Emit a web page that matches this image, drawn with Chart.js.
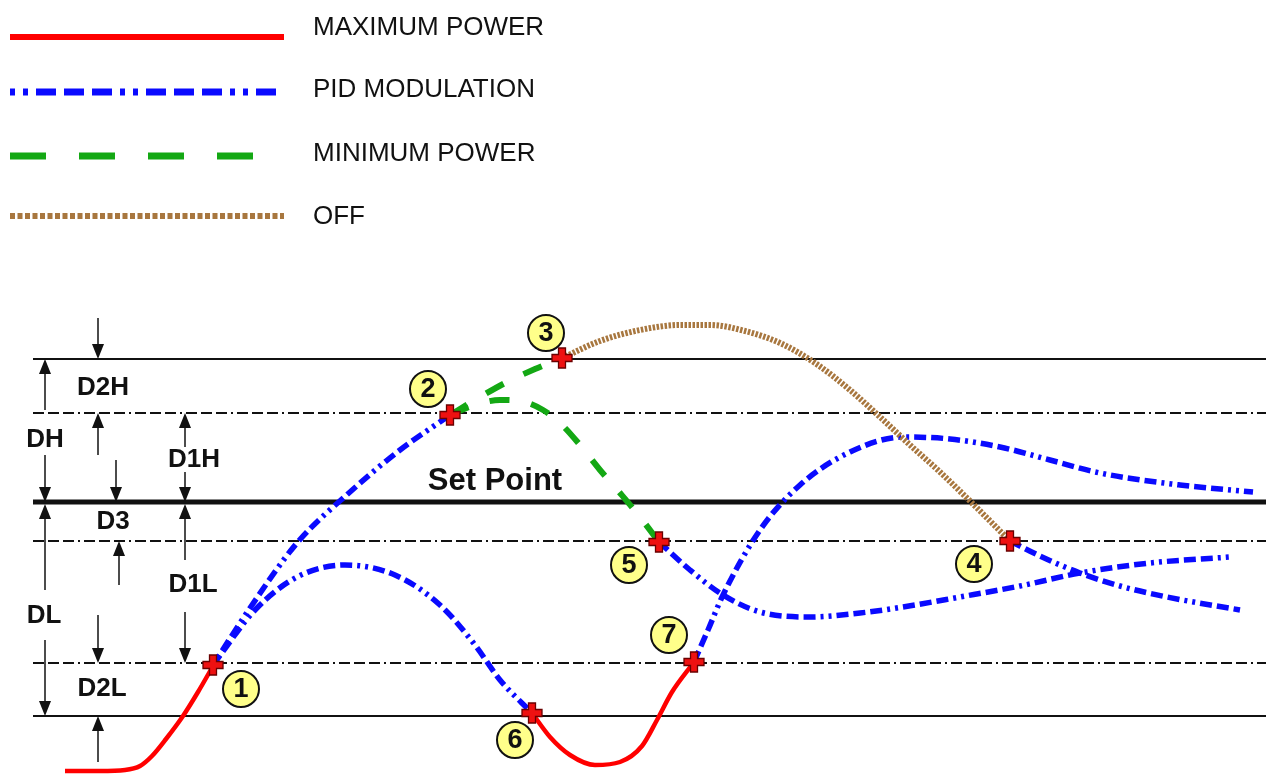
<!DOCTYPE html>
<html>
<head>
<meta charset="utf-8">
<title>Modulation bands</title>
<script src="https://cdn.jsdelivr.net/npm/chart.js@4.4.1/dist/chart.umd.min.js"></script>
<style>
  html, body { margin: 0; padding: 0; background: #fff; }
  #wrap { width: 1266px; height: 774px; }
</style>
</head>
<body>
<div id="wrap"><canvas id="chart" width="1266" height="774"></canvas></div>
<script>
// diagram units: x left to right, y grows downward like the drawing
const lineStart = 33;
const lineEnd = 1266;
// top, D1H, set point, D1L, D2L, bottom
const bandLevels = [359, 413, 502, 541, 663, 716];

const seriesNames = ['MAXIMUM POWER', 'PID MODULATION', 'MINIMUM POWER', 'OFF'];

// maximum power (red)
const maxPowerA = [[65,771],[100,771],[125,770],[140,766],[152,756],[166,739],[183,716],[198,692],[213,666]];
const maxPowerB = [[532,713],[550,737],[570,755],[595,765],[620,762],[642,746],[657,720],[672,692],[694,662]];

// PID modulation (blue)
const pidUp = [[213,665],[250,608],[297,543],[350,492],[400,450],[450,415]];
const pidHump = [[213,665],[255,610],[297,577],[345,565],[395,575],[440,605],[475,645],[500,680],[532,713]];
const pidFrom5 = [[659,542],[690,570],[723,595],[760,612],[810,617],[860,613],[903,607],[960,597],[1020,586],[1080,573],[1150,563],[1230,557]];
const pidFrom7 = [[694,662],[708,630],[723,595],[760,530],[800,485],[850,452],[903,437],[950,439],[1000,447],[1050,460],[1100,473],[1180,485],[1253,492]];
const pidFrom4 = [[1010,541],[1040,556],[1080,573],[1120,586],[1167,597],[1240,610]];

// minimum power (green)
const minTo3 = [[450,415],[475,400],[505,383],[535,369],[562,358]];
const minTo5 = [[450,415],[475,405],[500,400],[520,401],[543,410],[562,425],[580,445],[600,470],[620,493],[640,517],[659,542]];

// off (brown)
const offCurve = [[562,358],[600,341],[640,330],[680,325],[710,325],[745,331],[780,343],[815,363],[850,390],[880,417],[910,445],[940,472],[972,503],[1010,541]];

// switching events
const eventNames = ['1','2','3','4','5','6','7'];
const eventX = [213, 450, 562, 1010, 659, 532, 694];
const eventY = [665, 415, 358, 541, 542, 713, 662];
const tagX = [241, 428, 546, 974, 629, 515, 669];
const tagY = [689, 389, 333, 564, 565, 740, 635];

// band labels and arrows (x, tail y, head y)
const bandNames = ['D2H','DH','D1H','D3','D1L','DL','D2L','Set Point'];
const bandNameX = [103, 45, 194, 113, 193, 44, 102, 495];
const bandNameY = [388, 440, 460, 522, 585, 616, 689, 481];
const arrows = [
  [98, 318, 359], [98, 455, 413],
  [45, 410, 359], [45, 455, 502],
  [116, 460, 502], [119, 585, 541],
  [185, 447, 413], [185, 472, 502],
  [185, 560, 504], [185, 612, 663],
  [45, 590, 504], [45, 640, 716],
  [98, 615, 663], [98, 762, 716]
];

const FONT = '"Liberation Sans", Arial, sans-serif';
const pts = arr => arr.map(p => ({ x: p[0], y: p[1] }));

function curve(data, color, width, dash) {
  return {
    data: pts(data), showLine: true, borderColor: color, borderWidth: width,
    borderDash: dash, cubicInterpolationMode: 'monotone', pointRadius: 0,
    borderCapStyle: 'butt', order: 5, clip: false
  };
}

// red plus marker
const plus = document.createElement('canvas');
plus.width = 22; plus.height = 22;
(function () {
  const c = plus.getContext('2d');
  const a = 3.5, b = 10, m = 11;
  c.beginPath();
  c.moveTo(m - a, m - b); c.lineTo(m + a, m - b); c.lineTo(m + a, m - a); c.lineTo(m + b, m - a);
  c.lineTo(m + b, m + a); c.lineTo(m + a, m + a); c.lineTo(m + a, m + b); c.lineTo(m - a, m + b);
  c.lineTo(m - a, m + a); c.lineTo(m - b, m + a); c.lineTo(m - b, m - a); c.lineTo(m - a, m - a);
  c.closePath();
  c.fillStyle = '#ee1111';
  c.fill();
  c.lineWidth = 1.3;
  c.strokeStyle = '#6a0000';
  c.stroke();
})();

const dashDot = [11, 4, 11, 4, 11, 4, 2, 4];
const levelStyles = [
  { w: 2, dash: [] }, { w: 2, dash: dashDot }, { w: 5, dash: [] },
  { w: 2, dash: dashDot }, { w: 2, dash: dashDot }, { w: 2, dash: [] }
];

const datasets = bandLevels.map((y, i) => ({
  data: [{ x: lineStart, y: y }, { x: lineEnd, y: y }],
  showLine: true, borderColor: '#111', borderWidth: levelStyles[i].w,
  borderDash: levelStyles[i].dash, pointRadius: 0, order: 10
}));

const blue = '#0a0aff', blueDash = [12, 5, 12, 5, 12, 5, 3, 5, 3, 5];
const green = '#14a814', greenDash = [20, 22];
const brown = '#a8773f', brownDash = [2.5, 1.5];

datasets.push(
  curve(offCurve, brown, 6, brownDash),
  curve(minTo3, green, 6, greenDash),
  curve(minTo5, green, 6, greenDash),
  curve(pidUp, blue, 5.5, blueDash),
  curve(pidHump, blue, 5.5, blueDash),
  curve(pidFrom5, blue, 5.5, blueDash),
  curve(pidFrom7, blue, 5.5, blueDash),
  curve(pidFrom4, blue, 5.5, blueDash),
  curve(maxPowerA, '#ff0000', 4.5, []),
  curve(maxPowerB, '#ff0000', 4.5, []),
  {
    data: eventX.map((x, i) => ({ x: x, y: eventY[i] })),
    pointStyle: plus, pointRadius: 11, showLine: false, order: 2
  },
  {
    data: tagX.map((x, i) => ({ x: x, y: tagY[i] })),
    pointStyle: 'circle', pointRadius: 18, pointBackgroundColor: '#ffff8a',
    pointBorderColor: '#111', pointBorderWidth: 2, showLine: false, order: 1
  }
);

const annotationPlugin = {
  id: 'bandAnnotations',
  afterDatasetsDraw(chart) {
    const ctx = chart.ctx;
    const xs = chart.scales.x, ys = chart.scales.y;
    ctx.save();
    // arrows
    ctx.strokeStyle = '#111';
    ctx.fillStyle = '#111';
    ctx.lineWidth = 1.5;
    arrows.forEach(a => {
      const x = xs.getPixelForValue(a[0]);
      const y0 = ys.getPixelForValue(a[1]);
      const y1 = ys.getPixelForValue(a[2]);
      const dir = y1 > y0 ? 1 : -1;
      ctx.beginPath();
      ctx.moveTo(x, y0);
      ctx.lineTo(x, y1 - dir * 12);
      ctx.stroke();
      ctx.beginPath();
      ctx.moveTo(x, y1);
      ctx.lineTo(x - 6, y1 - dir * 15);
      ctx.lineTo(x + 6, y1 - dir * 15);
      ctx.closePath();
      ctx.fill();
    });
    // band names
    ctx.textAlign = 'center';
    ctx.textBaseline = 'middle';
    bandNames.forEach((t, i) => {
      ctx.font = (t === 'Set Point' ? 'bold 31px ' : 'bold 26px ') + FONT;
      ctx.fillText(t, xs.getPixelForValue(bandNameX[i]), ys.getPixelForValue(bandNameY[i]));
    });
    // event numbers
    const meta = chart.getDatasetMeta(chart.data.datasets.length - 1);
    ctx.font = 'bold 27px ' + FONT;
    meta.data.forEach((el, i) => {
      ctx.fillText(eventNames[i], el.x, el.y + 1);
    });
    ctx.restore();
  }
};

const legendPlugin = {
  id: 'bandLegend',
  afterDraw(chart) {
    const ctx = chart.ctx;
    const rows = [
      { y: 37, ty: 28, color: '#ff0000', w: 6, dash: [] },
      { y: 92, ty: 90, color: blue, w: 7, dash: [5, 8, 5, 8, 20, 8, 20, 8, 20, 8] },
      { y: 156, ty: 154, color: green, w: 7, dash: [36, 33] },
      { y: 216, ty: 217, color: brown, w: 6, dash: [5, 2.5] }
    ];
    ctx.save();
    rows.forEach((r, i) => {
      ctx.beginPath();
      ctx.setLineDash(r.dash);
      ctx.lineCap = 'butt';
      ctx.strokeStyle = r.color;
      ctx.lineWidth = r.w;
      ctx.moveTo(10, r.y);
      ctx.lineTo(284, r.y);
      ctx.stroke();
      ctx.setLineDash([]);
      ctx.fillStyle = '#111';
      ctx.font = '26px ' + FONT;
      ctx.textBaseline = 'middle';
      ctx.fillText(seriesNames[i], 313, r.ty);
    });
    ctx.restore();
  }
};

new Chart(document.getElementById('chart'), {
  type: 'scatter',
  data: { datasets: datasets },
  options: {
    responsive: false,
    animation: false,
    layout: { padding: 0, autoPadding: false },
    plugins: { legend: { display: false }, tooltip: { enabled: false } },
    scales: {
      x: { type: 'linear', min: 0, max: 1266, display: false },
      y: { type: 'linear', min: 0, max: 774, reverse: true, display: false }
    }
  },
  plugins: [annotationPlugin, legendPlugin]
});
</script>
</body>
</html>
